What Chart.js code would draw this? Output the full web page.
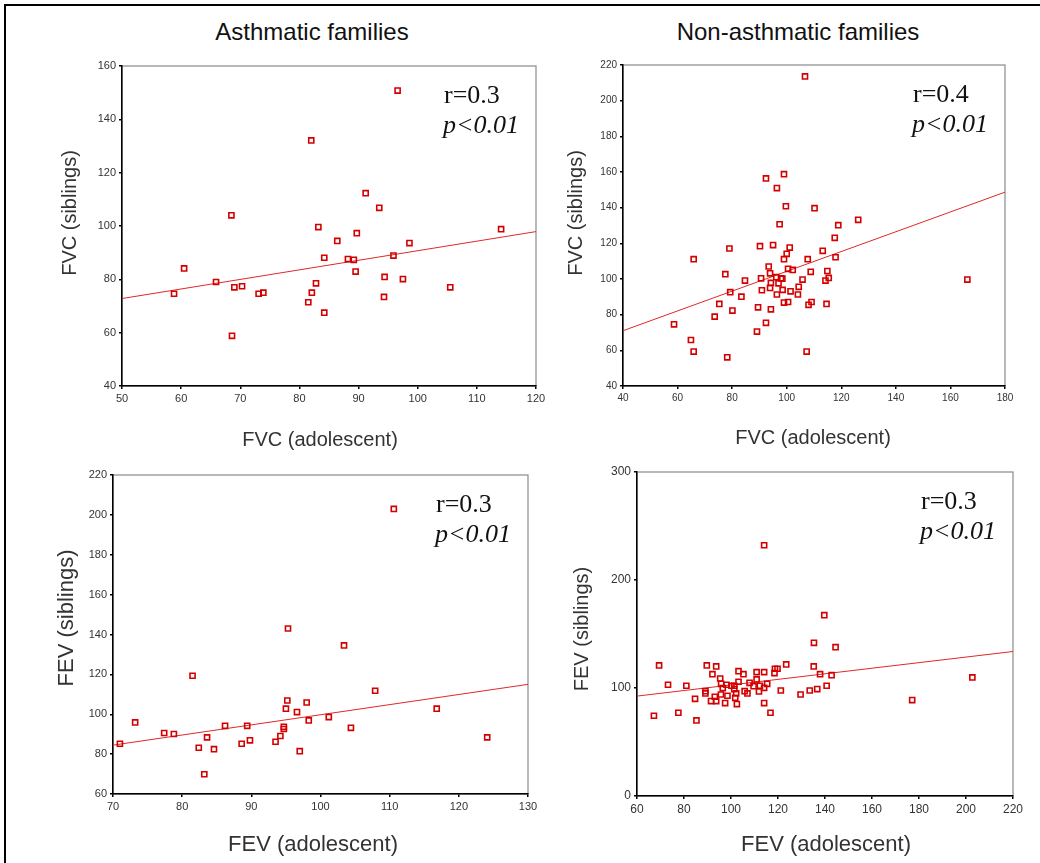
<!DOCTYPE html>
<html>
<head>
<meta charset="utf-8">
<script src="https://cdn.jsdelivr.net/npm/chart.js@4.4.0/dist/chart.umd.min.js"></script>
<style>
    body { margin: 0; background: #fff; }
    #page { position: relative; width: 1040px; height: 863px; overflow: hidden; }
    #page canvas { position: absolute; left: 0; top: 0; }
    .frame { position: absolute; left: 4px; top: 4px; width: 1100px; height: 900px;
             border-left: 2px solid #000; border-top: 2px solid #000; }
    .heading { position: absolute; top: 18px; line-height: 28px; transform: translateX(-50%);
               font: 24px "Liberation Sans", Arial, sans-serif; color: #111; white-space: nowrap; }
</style>
</head>
<body>
<div id="page">
    <div class="frame"></div>
    <div class="heading" style="left:312px">Asthmatic families</div>
    <div class="heading" style="left:798px">Non-asthmatic families</div>
    <canvas id="c1" width="1040" height="863"></canvas>
    <canvas id="c2" width="1040" height="863"></canvas>
    <canvas id="c3" width="1040" height="863"></canvas>
    <canvas id="c4" width="1040" height="863"></canvas>
</div>
<script>
// FVC, asthmatic families
const fvcAsthX = [96.6, 82.0, 91.2, 93.5, 68.5, 83.2, 114.1, 89.7, 86.4, 98.6, 84.2, 95.9, 88.2, 89.2, 60.5, 89.5,
    94.4, 97.5, 65.9, 82.8, 69.0, 70.3, 105.5, 73.1, 73.9, 58.8, 82.1, 81.5, 94.3, 84.2, 68.6];
const fvcAsthY = [150.8, 132.1, 112.3, 106.8, 104.0, 99.6, 98.8, 97.3, 94.4, 93.6, 88.1, 88.9, 87.6, 87.3, 84.1, 82.9,
    80.9, 80.1, 79.0, 78.5, 77.0, 77.4, 77.0, 74.6, 75.0, 74.6, 75.0, 71.4, 73.4, 67.5, 58.8];
const fvcAsthFitX = [50, 120];
const fvcAsthFitY = [72.8, 97.9];

// FVC, non-asthmatic families
const fvcNonX = [106.7, 99.0, 92.4, 96.4, 99.7, 110.2, 126.2, 97.4, 118.9, 117.6, 79.0, 90.2, 95.0, 101.1, 113.2, 100.0,
    65.9, 99.0, 107.7, 117.9, 93.4, 100.5, 102.2, 93.9, 108.8, 114.9, 77.5, 90.6, 96.2, 97.9, 98.4, 115.4,
    105.8, 84.7, 114.2, 166.2, 94.2, 97.0, 104.4, 93.9, 90.9, 98.5, 101.4, 79.3, 96.4, 104.1, 83.4, 75.3,
    99.0, 100.5, 109.1, 108.0, 114.6, 89.5, 94.2, 80.1, 73.6, 58.7, 92.4, 89.1, 64.9, 65.9, 107.3, 78.2];
const fvcNonY = [213.6, 158.8, 156.4, 151.0, 140.8, 139.7, 133.2, 130.7, 130.2, 123.1, 117.1, 118.4, 119.0, 117.6, 115.8, 114.1,
    111.1, 111.1, 111.1, 112.2, 107.0, 105.7, 105.1, 103.2, 104.0, 104.5, 102.7, 100.4, 101.0, 100.4, 100.2, 100.6,
    99.7, 99.1, 99.1, 99.7, 97.8, 97.6, 95.6, 95.0, 93.7, 93.9, 93.1, 92.6, 91.3, 91.3, 90.1, 86.0,
    86.8, 87.1, 87.1, 85.5, 86.0, 84.1, 83.0, 82.3, 78.9, 74.6, 75.4, 70.5, 65.8, 59.3, 59.3, 56.1];
const fvcNonFitX = [40, 180];
const fvcNonFitY = [71.0, 148.7];

// FEV, asthmatic families
const fevAsthX = [110.6, 95.3, 103.4, 81.5, 107.9, 95.2, 98.0, 95.0, 116.8, 96.6, 98.3, 73.2, 101.2, 86.2, 89.4, 94.7,
    94.7, 104.4, 77.4, 78.8, 94.2, 83.6, 124.1, 89.8, 93.5, 71.0, 88.6, 82.4, 84.6, 97.0, 83.2];
const fevAsthY = [203.0, 143.0, 134.5, 119.3, 111.8, 106.9, 105.9, 102.8, 102.8, 101.1, 96.9, 95.9, 98.6, 94.2, 94.2, 93.7,
    92.6, 93.2, 90.6, 90.1, 89.1, 88.4, 88.4, 86.9, 86.2, 85.2, 85.2, 83.2, 82.5, 81.5, 69.9];
const fevAsthFitX = [70, 130];
const fevAsthFitY = [84.5, 115.0];

// FEV, non-asthmatic families
const fevNonX = [114.1, 139.7, 135.3, 144.5, 69.4, 89.7, 93.7, 123.5, 135.2, 118.7, 119.8, 103.2, 110.9, 114.1, 118.5, 105.3,
    92.1, 137.9, 142.8, 95.4, 110.9, 103.2, 107.9, 95.8, 115.4, 73.2, 81.0, 98.1, 100.2, 101.4, 112.3, 140.7,
    109.6, 96.5, 114.1, 101.4, 89.1, 105.8, 121.2, 136.7, 133.5, 202.7, 89.1, 102.2, 107.0, 111.9, 129.6, 95.7,
    98.5, 93.1, 101.8, 84.7, 91.5, 93.7, 177.1, 97.5, 102.5, 114.1, 67.2, 77.6, 116.8, 85.3];
const fevNonY = [232.2, 167.4, 141.8, 137.8, 120.9, 120.9, 120.0, 121.8, 120.0, 117.8, 117.8, 115.6, 114.7, 114.7, 113.8, 112.8,
    112.8, 112.8, 111.9, 108.8, 107.9, 105.8, 104.8, 103.9, 103.9, 103.0, 102.1, 103.0, 102.1, 102.1, 102.1, 102.1,
    101.7, 99.9, 100.2, 99.0, 97.1, 97.1, 97.7, 99.0, 97.7, 109.8, 95.0, 95.0, 95.0, 96.8, 94.0, 94.0,
    92.8, 91.9, 90.9, 90.0, 87.9, 87.9, 88.8, 86.0, 85.1, 86.0, 74.3, 77.1, 77.1, 70.0];
const fevNonFitX = [60, 220];
const fevNonFitY = [92.5, 133.8];

Chart.defaults.font.family = '"Liberation Sans", Arial, sans-serif';
Chart.defaults.animation = false;

const RED = '#d40000';

const panelDecor = {
    id: 'panelDecor',
    beforeDraw(chart, args, o) {
        const a = chart.chartArea;
        const ctx = chart.ctx;
        ctx.save();
        ctx.strokeStyle = '#8a8a8a';
        ctx.lineWidth = 1.2;
        ctx.strokeRect(a.left, a.top, a.right - a.left, a.bottom - a.top);
        ctx.restore();
    },
    afterDraw(chart, args, o) {
        const a = chart.chartArea;
        const ctx = chart.ctx;
        ctx.save();
        // r / p annotation
        ctx.fillStyle = '#111';
        ctx.textBaseline = 'alphabetic';
        ctx.font = '26px "Liberation Serif", "Times New Roman", serif';
        ctx.fillText(o.r, a.right - 92, a.top + 37);
        ctx.font = 'italic 26px "Liberation Serif", "Times New Roman", serif';
        ctx.fillText('p<0.01', a.right - 93, a.top + 67);
        // axis titles
        ctx.fillStyle = '#333';
        ctx.textAlign = 'center';
        ctx.textBaseline = 'middle';
        ctx.font = o.xSize + 'px "Liberation Sans", Arial, sans-serif';
        ctx.fillText(o.xTitle, o.xAt[0], o.xAt[1]);
        ctx.font = o.ySize + 'px "Liberation Sans", Arial, sans-serif';
        ctx.translate(o.yAt[0], o.yAt[1]);
        ctx.rotate(-Math.PI / 2);
        ctx.fillText(o.yTitle, 0, 0);
        ctx.restore();
    }
};

function axis(min, max, step, size, fit) {
    return {
        type: 'linear',
        min: min,
        max: max,
        ticks: { stepSize: step, autoSkip: false, maxRotation: 0, color: '#333', padding: 3, font: { size: size } },
        grid: { drawOnChartArea: false, tickLength: 3, color: '#000', lineWidth: 1.5 },
        border: { color: '#000', width: 1.5 },
        afterFit: fit
    };
}

function makePanel(id, p) {
    const yW = 40, xH = 30;
    new Chart(document.getElementById(id), {
        type: 'scatter',
        data: {
            datasets: [{
                data: p.x.map((v, i) => ({ x: v, y: p.y[i] })),
                pointStyle: 'rect',
                pointRadius: 3.6,
                borderWidth: 1.6,
                borderColor: RED,
                backgroundColor: 'rgba(0,0,0,0)'
            }, {
                type: 'line',
                data: p.fitX.map((v, i) => ({ x: v, y: p.fitY[i] })),
                borderColor: '#e02828',
                borderWidth: 1,
                pointRadius: 0
            }]
        },
        options: {
            responsive: false,
            devicePixelRatio: 1,
            layout: { padding: { left: p.area[0] - yW, top: p.area[2], right: 1040 - p.area[1], bottom: 863 - p.area[3] - xH } },
            plugins: {
                legend: { display: false },
                tooltip: { enabled: false },
                panelDecor: p.decor
            },
            scales: {
                x: axis(p.xr[0], p.xr[1], p.xr[2], p.tick, s => { s.height = xH; }),
                y: axis(p.yr[0], p.yr[1], p.yr[2], p.tick, s => { s.width = yW; })
            }
        },
        plugins: [panelDecor]
    });
}

makePanel('c1', {
    x: fvcAsthX, y: fvcAsthY, fitX: fvcAsthFitX, fitY: fvcAsthFitY,
    xr: [50, 120, 10], yr: [40, 160, 20], tick: 11,
    area: [122, 536, 66, 386],
    decor: { r: 'r=0.3', xTitle: 'FVC (adolescent)', yTitle: 'FVC (siblings)', xSize: 20, ySize: 20, xAt: [320, 440], yAt: [70, 213] }
});
makePanel('c2', {
    x: fvcNonX, y: fvcNonY, fitX: fvcNonFitX, fitY: fvcNonFitY,
    xr: [40, 180, 20], yr: [40, 220, 20], tick: 10,
    area: [623, 1005, 65, 386],
    decor: { r: 'r=0.4', xTitle: 'FVC (adolescent)', yTitle: 'FVC (siblings)', xSize: 20, ySize: 20, xAt: [813, 438], yAt: [576, 213] }
});
makePanel('c3', {
    x: fevAsthX, y: fevAsthY, fitX: fevAsthFitX, fitY: fevAsthFitY,
    xr: [70, 130, 10], yr: [60, 220, 20], tick: 11,
    area: [113, 528, 475, 794],
    decor: { r: 'r=0.3', xTitle: 'FEV (adolescent)', yTitle: 'FEV (siblings)', xSize: 22, ySize: 22, xAt: [313, 845], yAt: [67, 618] }
});
makePanel('c4', {
    x: fevNonX, y: fevNonY, fitX: fevNonFitX, fitY: fevNonFitY,
    xr: [60, 220, 20], yr: [0, 300, 100], tick: 12,
    area: [637, 1013, 472, 796],
    decor: { r: 'r=0.3', xTitle: 'FEV (adolescent)', yTitle: 'FEV (siblings)', xSize: 22, ySize: 20, xAt: [826, 845], yAt: [582, 629] }
});
</script>
</body>
</html>
